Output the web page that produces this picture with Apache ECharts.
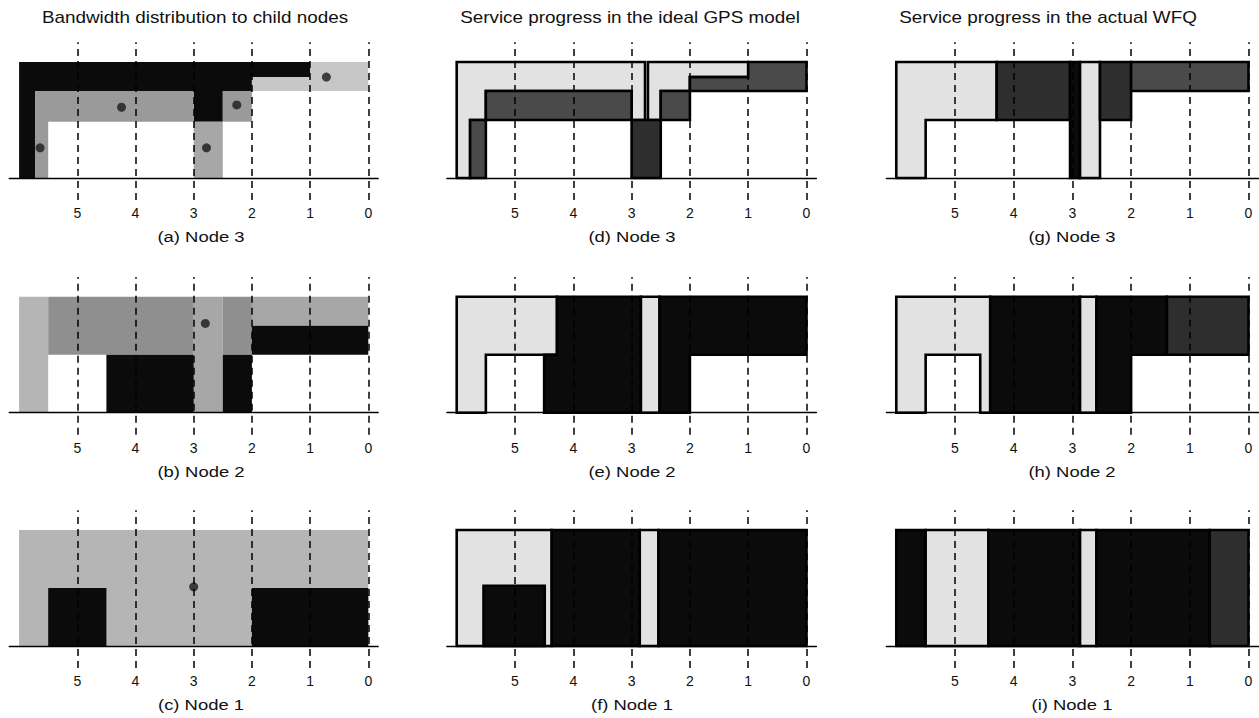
<!DOCTYPE html>
<html><head><meta charset="utf-8">
<script src="https://cdn.jsdelivr.net/npm/echarts@6/dist/echarts.min.js"></script>
<style>html,body{margin:0;padding:0;background:#fff}#c{width:1259px;height:718px}</style>
</head><body><div id="c"></div>
<script>
// ---------- data ----------
const tickValues = [5, 4, 3, 2, 1, 0];
const columnTitles = ['Bandwidth distribution to child nodes', 'Service progress in the ideal GPS model', 'Service progress in the actual WFQ'];
const panelCaptions = [
  ['(a) Node 3', '(b) Node 2', '(c) Node 1'],
  ['(d) Node 3', '(e) Node 2', '(f) Node 1'],
  ['(g) Node 3', '(h) Node 2', '(i) Node 1']
];
// shapes: [shade, [[time, share], ...]]
const panelA = [
  ['black', [[6,0],[6,1],[1,1],[1,0.87],[2,0.87],[2,0.75],[2.5,0.75],[2.5,0.485],[3,0.485],[3,0.75],[5.72,0.75],[5.72,0]]],
  ['mid',   [[5.72,0],[5.72,0.75],[3,0.75],[3,0.485],[5.5,0.485],[5.5,0]]],
  ['mid',   [[2.5,0.485],[2.5,0.75],[2,0.75],[2,0.485]]],
  ['gray',  [[3,0],[3,0.485],[2.5,0.485],[2.5,0]]],
  ['light', [[2,0.75],[2,0.87],[1,0.87],[1,1],[0,1],[0,0.75]]]
];
const panelB = [
  ['pale',  [[6,0],[6,1],[5.5,1],[5.5,0]]],
  ['mid2',  [[5.5,0.5],[5.5,1],[3,1],[3,0.5]]],
  ['gray',  [[3,0],[3,1],[2.5,1],[2.5,0]]],
  ['mid2',  [[2.5,0.5],[2.5,1],[2,1],[2,0.5]]],
  ['gray',  [[2,0.75],[2,1],[0,1],[0,0.75]]],
  ['black', [[4.5,0],[4.5,0.5],[3,0.5],[3,0]]],
  ['black', [[2.5,0],[2.5,0.5],[2,0.5],[2,0]]],
  ['black', [[2,0.5],[2,0.75],[0,0.75],[0,0.5]]]
];
const panelC = [
  ['pale',  [[6,0],[6,1],[0,1],[0,0]]],
  ['black', [[5.5,0],[5.5,0.5],[4.5,0.5],[4.5,0]]],
  ['black', [[2,0],[2,0.5],[0,0.5],[0,0]]]
];
const panelD = [
  ['faint', [[6,0],[6,1],[2.77,1],[2.77,0.5],[3,0.5],[3,0.75],[5.5,0.75],[5.5,0.5],[5.77,0.5],[5.77,0]]],
  ['faint', [[2.72,0.5],[2.72,1],[1,1],[1,0.87],[2,0.87],[2,0.75],[2.5,0.75],[2.5,0.5]]],
  ['dark2', [[5.77,0],[5.77,0.5],[5.5,0.5],[5.5,0]]],
  ['dark2', [[5.5,0.5],[5.5,0.75],[3,0.75],[3,0.5]]],
  ['dark',  [[3,0],[3,0.5],[2.5,0.5],[2.5,0]]],
  ['dark2', [[2.5,0.5],[2.5,0.75],[2,0.75],[2,0.5]]],
  ['dark2', [[2,0.75],[2,0.87],[1,0.87],[1,1],[0,1],[0,0.75]]]
];
const panelE = [
  ['faint', [[6,0],[6,1],[4.28,1],[4.28,0.5],[5.5,0.5],[5.5,0]]],
  ['black', [[4.5,0],[4.5,0.5],[4.28,0.5],[4.28,1],[2.84,1],[2.84,0]]],
  ['faint', [[2.84,0],[2.84,1],[2.52,1],[2.52,0]]],
  ['black', [[2.52,0],[2.52,1],[0,1],[0,0.5],[2,0.5],[2,0]]]
];
const panelF = [
  ['faint', [[6,0],[6,1],[4.37,1],[4.37,0]]],
  ['black', [[5.54,0],[5.54,0.52],[4.49,0.52],[4.49,0]]],
  ['black', [[4.37,0],[4.37,1],[2.86,1],[2.86,0]]],
  ['faint', [[2.86,0],[2.86,1],[2.54,1],[2.54,0]]],
  ['black', [[2.54,0],[2.54,1],[0,1],[0,0]]]
];
const panelG = [
  ['faint', [[6,0],[6,1],[4.29,1],[4.29,0.5],[5.5,0.5],[5.5,0]]],
  ['dark',  [[4.29,0.5],[4.29,1],[3.04,1],[3.04,0.5]]],
  ['black', [[3.04,0],[3.04,1],[2.87,1],[2.87,0]]],
  ['faint', [[2.87,0],[2.87,1],[2.53,1],[2.53,0]]],
  ['dark',  [[2.53,0.5],[2.53,1],[2,1],[2,0.5]]],
  ['dark2', [[2,0.75],[2,1],[0,1],[0,0.75]]]
];
const panelH = [
  ['faint', [[6,0],[6,1],[4.4,1],[4.4,0],[4.57,0],[4.57,0.5],[5.5,0.5],[5.5,0]]],
  ['black', [[4.4,0],[4.4,1],[2.87,1],[2.87,0]]],
  ['faint', [[2.87,0],[2.87,1],[2.59,1],[2.59,0]]],
  ['black', [[2.59,0],[2.59,1],[1.39,1],[1.39,0.5],[2,0.5],[2,0]]],
  ['dark',  [[1.39,0.5],[1.39,1],[0,1],[0,0.5]]]
];
const panelI = [
  ['black', [[6,0],[6,1],[5.5,1],[5.5,0]]],
  ['faint', [[5.5,0],[5.5,1],[4.43,1],[4.43,0]]],
  ['black', [[4.43,0],[4.43,1],[2.87,1],[2.87,0]]],
  ['faint', [[2.87,0],[2.87,1],[2.59,1],[2.59,0]]],
  ['black', [[2.59,0],[2.59,1],[0.66,1],[0.66,0]]],
  ['dark',  [[0.66,0],[0.66,1],[0,1],[0,0]]]
];
const markA = [[5.64,0.26],[4.24,0.61],[2.26,0.63],[2.78,0.26],[0.72,0.87]];
const markB = [[2.8,0.77]];
const markC = [[3.0,0.51]];

// ---------- styles / layout ----------
const shadeColors = {
  black: '#0b0b0b', dark: '#2e2e2e', dark2: '#4a4a4a', mid: '#9a9a9a', mid2: '#8f8f8f',
  gray: '#a7a7a7', pale: '#b5b5b5', light: '#c7c7c7', faint: '#e2e2e2'
};
const panels = [[panelA, panelB, panelC], [panelD, panelE, panelF], [panelG, panelH, panelI]];
const marks = [[markA, markB, markC], [[], [], []], [[], [], []]];
const cols = [{x6: 19.1, unit: 58.2, title: 195, cap: 201}, {x6: 456.7, unit: 58.3, title: 630, cap: 632}, {x6: 896.3, unit: 58.7, title: 1048, cap: 1072}];
const rowBase = [178, 412.7, 646];
const vUnit = 116, vMin = -0.19, vMax = 1.17, xPad = 0.17;
const FONT = '"Liberation Sans", Arial, Helvetica, sans-serif';

const grid = [], xAxis = [], yAxis = [], series = [], graphic = [];
cols.forEach((col, c) => {
  graphic.push({type: 'text', x: col.title, y: 18, scaleX: 1.18,
    style: {text: columnTitles[c], fontSize: 16, fontFamily: FONT, fill: '#111', align: 'center', verticalAlign: 'middle'}});
  rowBase.forEach((base, r) => {
    const idx = c * 3 + r;
    grid.push({left: col.x6 - xPad * col.unit, width: (6 + 2 * xPad) * col.unit,
      top: base - vMax * vUnit, height: (vMax - vMin) * vUnit, outerBoundsMode: 'none', containLabel: false});
    xAxis.push({gridIndex: idx, type: 'value', inverse: true, min: -xPad, max: 6 + xPad, z: 10,
      axisLine: {show: true, onZero: true, lineStyle: {color: '#000', width: 1.3}},
      axisTick: {show: false}, splitLine: {show: false},
      axisLabel: {customValues: tickValues, margin: 6, fontSize: 14, fontFamily: FONT, color: '#111'}});
    yAxis.push({gridIndex: idx, type: 'value', min: vMin, max: vMax, show: false});
    const shapes = panels[c][r];
    const outlined = c > 0;
    series.push({
      type: 'custom', xAxisIndex: idx, yAxisIndex: idx, silent: true,
      data: shapes.map((s, i) => [i]),
      renderItem: (params, api) => {
        const s = shapes[params.dataIndex];
        return {type: 'polygon', shape: {points: s[1].map(p => api.coord(p))},
          style: {fill: shadeColors[s[0]], stroke: outlined ? '#000' : null, lineWidth: outlined ? 2.6 : 0, lineJoin: 'miter'}};
      },
      markLine: {silent: true, symbol: ['none', 'none'], label: {show: false}, animation: false,
        lineStyle: {color: '#000', width: 1.5, type: [7, 5], opacity: 1},
        emphasis: {disabled: true},
        data: tickValues.map(v => ({xAxis: v}))}
    });
    if (marks[c][r].length) {
      series.push({type: 'scatter', xAxisIndex: idx, yAxisIndex: idx, silent: true, z: 4,
        data: marks[c][r], symbolSize: 9, itemStyle: {color: '#1a1a1a'}});
    }
    graphic.push({type: 'text', x: col.cap, y: base + 59, scaleX: 1.19,
      style: {text: panelCaptions[c][r], fontSize: 15.5, fontFamily: FONT, fill: '#111', align: 'center', verticalAlign: 'middle'}});
  });
});

const chart = echarts.init(document.getElementById('c'), null, {renderer: 'svg', width: 1259, height: 718});
chart.setOption({animation: false, backgroundColor: '#fff', grid, xAxis, yAxis, series, graphic});
</script>
</body></html>
